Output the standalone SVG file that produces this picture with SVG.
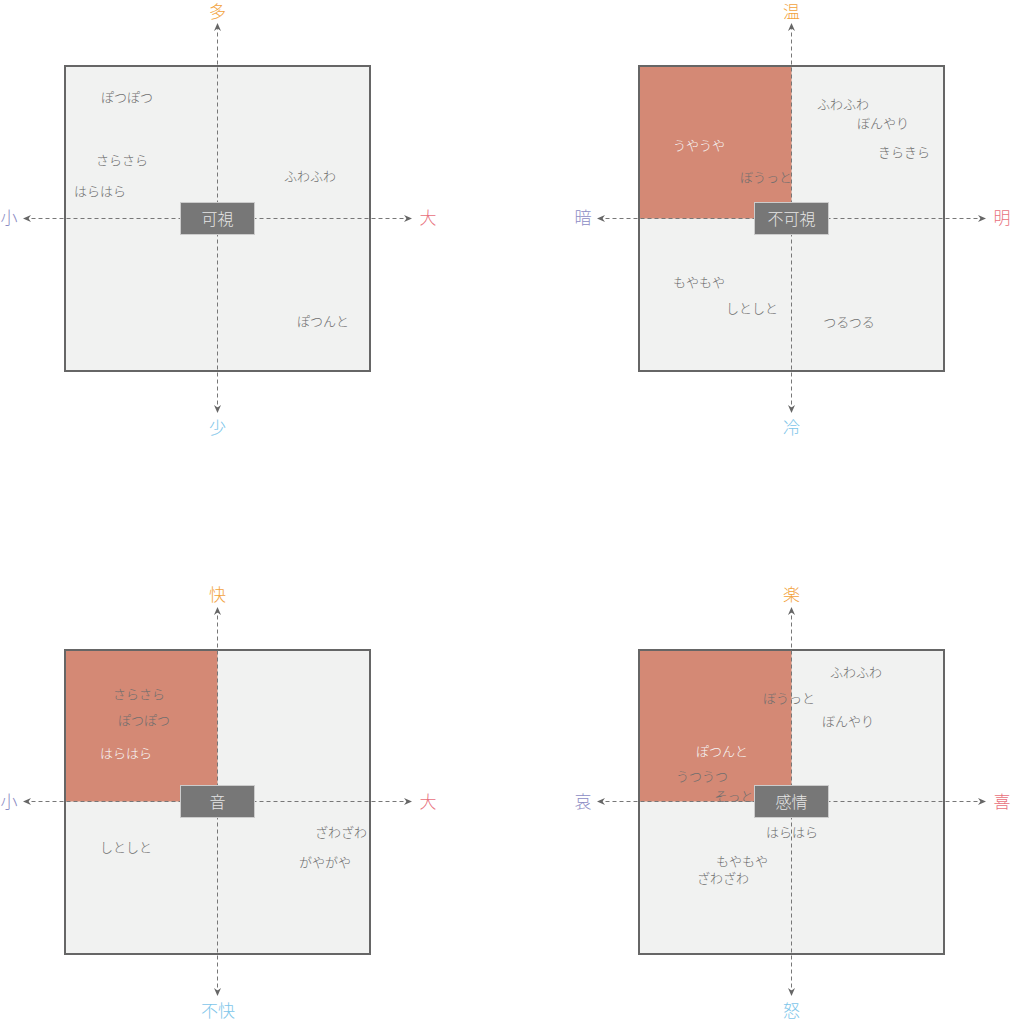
<svg xmlns="http://www.w3.org/2000/svg" width="1012" height="1023" viewBox="0 0 1012 1023">
<defs>
<marker id="arr" markerWidth="10" markerHeight="8" refX="8" refY="4" orient="auto" markerUnits="userSpaceOnUse">
<path d="M0,0.5 L8,4 L0,7.5 L2.5,4 z" fill="#666"/>
</marker>
<style>
text{font-family:"Noto Sans CJK JP","Noto Sans",sans-serif;dominant-baseline:central;text-anchor:middle;font-weight:300}
.sq{fill:#f1f2f1;stroke:#666;stroke-width:2}
.hot{fill:#d48975}
.w{font-size:13px;fill:#6e6e6e}
.wl{font-size:13px;fill:#f6f6f6}
.box rect{fill:#777;stroke:#ccc;stroke-width:1}
.box text{font-size:16px;fill:#e6e6e6}
.ax{stroke:#777;stroke-width:1;stroke-dasharray:4,3;fill:none;marker-end:url(#arr)}
.lab{font-size:17px}
.c-l{fill:#8c8cc4}
.c-r{fill:#e8707c}
.c-t{fill:#f2a23c}
.c-b{fill:#7ec6ea}
</style>
</defs>
<rect width="1012" height="1023" fill="#ffffff"/>

<!-- Quadrant squares -->
<g id="panel-visible">
<rect class="sq" x="65" y="66" width="305" height="305"/>
</g>
<g id="panel-invisible">
<rect class="sq" x="639" y="66" width="305" height="305"/>
<rect class="hot" x="640" y="67" width="151.5" height="151.5"/>
</g>
<g id="panel-sound">
<rect class="sq" x="65" y="650" width="305" height="304"/>
<rect class="hot" x="66" y="651" width="151.5" height="150.5"/>
</g>
<g id="panel-emotion">
<rect class="sq" x="639" y="650" width="305" height="304"/>
<rect class="hot" x="640" y="651" width="151.5" height="150.5"/>
</g>

<!-- Words -->
<g id="words-visible">
<text class="w" x="127" y="96">ぽつぽつ</text>
<text class="w" x="122" y="159">さらさら</text>
<text class="w" x="100" y="190">はらはら</text>
<text class="w" x="310" y="175">ふわふわ</text>
<text class="w" x="323" y="320">ぽつんと</text>
</g>
<g id="words-invisible">
<text class="w" x="843" y="103">ふわふわ</text>
<text class="w" x="883" y="122">ぼんやり</text>
<text class="w" x="904" y="151">きらきら</text>
<text class="wl" x="699" y="144">うやうや</text>
<text class="w" x="766" y="176">ぼうっと</text>
<text class="w" x="699" y="281">もやもや</text>
<text class="w" x="752" y="307">しとしと</text>
<text class="w" x="849" y="321">つるつる</text>
</g>
<g id="words-sound">
<text class="w" x="139" y="693">さらさら</text>
<text class="w" x="144" y="719">ぽつぽつ</text>
<text class="wl" x="126" y="752">はらはら</text>
<text class="w" x="126" y="846">しとしと</text>
<text class="w" x="341" y="831">ざわざわ</text>
<text class="w" x="325" y="861">がやがや</text>
</g>
<g id="words-emotion">
<text class="w" x="856" y="671">ふわふわ</text>
<text class="w" x="789" y="697">ぼうっと</text>
<text class="w" x="848" y="720">ぼんやり</text>
<text class="wl" x="722" y="750">ぽつんと</text>
<text class="w" x="702" y="775">うつうつ</text>
<text class="w" x="734" y="795">そっと</text>
<text class="w" x="792" y="831">はらはら</text>
<text class="w" x="742" y="860">もやもや</text>
<text class="w" x="723" y="877">ざわざわ</text>
</g>

<!-- Axes -->
<g id="connectors">
<line class="ax" x1="217.5" y1="218.5" x2="23" y2="218.5"/>
<line class="ax" x1="217.5" y1="218.5" x2="412" y2="218.5"/>
<line class="ax" x1="217.5" y1="218.5" x2="217.5" y2="23"/>
<line class="ax" x1="217.5" y1="218.5" x2="217.5" y2="413"/>

<line class="ax" x1="791.5" y1="218.5" x2="597" y2="218.5"/>
<line class="ax" x1="791.5" y1="218.5" x2="986" y2="218.5"/>
<line class="ax" x1="791.5" y1="218.5" x2="791.5" y2="23"/>
<line class="ax" x1="791.5" y1="218.5" x2="791.5" y2="413"/>

<line class="ax" x1="217.5" y1="801.5" x2="23" y2="801.5"/>
<line class="ax" x1="217.5" y1="801.5" x2="412" y2="801.5"/>
<line class="ax" x1="217.5" y1="801.5" x2="217.5" y2="607"/>
<line class="ax" x1="217.5" y1="801.5" x2="217.5" y2="996"/>

<line class="ax" x1="791.5" y1="801.5" x2="597" y2="801.5"/>
<line class="ax" x1="791.5" y1="801.5" x2="986" y2="801.5"/>
<line class="ax" x1="791.5" y1="801.5" x2="791.5" y2="607"/>
<line class="ax" x1="791.5" y1="801.5" x2="791.5" y2="996"/>
</g>

<!-- Axis labels -->
<g id="labels-visible">
<text class="lab c-l" x="9" y="216">小</text>
<text class="lab c-r" x="428" y="216">大</text>
<text class="lab c-t" x="217.5" y="10.5">多</text>
<text class="lab c-b" x="217.5" y="426">少</text>
</g>
<g id="labels-invisible">
<text class="lab c-l" x="583" y="216">暗</text>
<text class="lab c-r" x="1002" y="216">明</text>
<text class="lab c-t" x="791.5" y="10.5">温</text>
<text class="lab c-b" x="791.5" y="426">冷</text>
</g>
<g id="labels-sound">
<text class="lab c-l" x="9" y="800">小</text>
<text class="lab c-r" x="428" y="800">大</text>
<text class="lab c-t" x="217.5" y="593">快</text>
<text class="lab c-b" x="218" y="1009">不快</text>
</g>
<g id="labels-emotion">
<text class="lab c-l" x="583" y="800">哀</text>
<text class="lab c-r" x="1002" y="800">喜</text>
<text class="lab c-t" x="791.5" y="593">楽</text>
<text class="lab c-b" x="791.5" y="1009">怒</text>
</g>

<!-- Center nodes -->
<g id="node-visible" class="box">
<rect x="180.5" y="202.5" width="74" height="32"/>
<text x="217.5" y="217.5">可視</text>
</g>
<g id="node-invisible" class="box">
<rect x="754.5" y="202.5" width="74" height="32"/>
<text x="791.5" y="217.5">不可視</text>
</g>
<g id="node-sound" class="box">
<rect x="180.5" y="785.5" width="74" height="32"/>
<text x="217.5" y="800.5">音</text>
</g>
<g id="node-emotion" class="box">
<rect x="754.5" y="785.5" width="74" height="32"/>
<text x="791.5" y="800.5">感情</text>
</g>
</svg>
